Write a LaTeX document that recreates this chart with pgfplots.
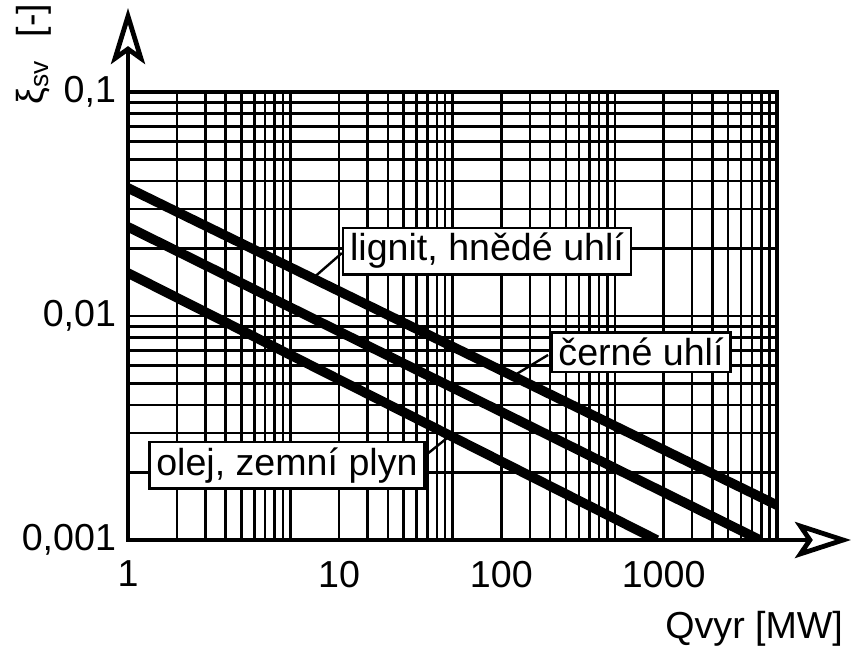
\documentclass[border=0pt]{standalone}
\usepackage{pgfplots}
\pgfplotsset{compat=1.18}
\usepackage{fontspec}
\setmainfont{Liberation Sans}
\usetikzlibrary{arrows.meta}
\newcommand{\lblfont}{\fontsize{18.8}{22}\selectfont}
\begin{document}
\begin{tikzpicture}[x=1pt,y=1pt]
\useasboundingbox (-64,-53.5) rectangle (363,270);
\begin{axis}[
  scale only axis, width=324.5pt, height=224pt,
  xmode=log, ymode=log,
  xmin=0.5, xmax=5000, ymin=0.001, ymax=0.1,
  xtick={0.5,10,100,1000}, xticklabels={1,10,100,1000},
  ytick={0.001,0.01,0.1}, yticklabels={{0,001},{0,01},{0,1}},
  minor xtick={1,1.5,2,2.5,3,3.5,4,4.5,5,15,20,25,30,35,40,45,50,150,200,250,300,350,400,450,500,1500,2000,2500,3000,3500,4000,4500},
  minor ytick={0.002,0.003,0.004,0.005,0.006,0.007,0.008,0.009,0.02,0.03,0.04,0.05,0.06,0.07,0.08,0.09},
  grid=both,
  major grid style={black, line width=1.25pt},
  minor grid style={black, line width=1.25pt},
  major tick length=0pt, minor tick length=0pt,
  axis line style={line width=2.2pt},
  tick label style={font=\lblfont},
  xticklabel style={yshift=-7pt},
  yticklabel style={xshift=-2.5pt},
]
% lignit, hnede uhli
\addplot[black, line width=4.8pt, line cap=butt] coordinates {(0.5,0.0373) (5000,0.00143)};
% cerne uhli
\addplot[black, line width=4.8pt, line cap=butt] coordinates {(0.5,0.0250) (3927,0.001)};
% olej, zemni plyn
\addplot[black, line width=4.8pt, line cap=butt] coordinates {(0.5,0.01556) (910,0.001)};

\draw[line width=1.2pt] (axis cs:10.4,0.0191) -- (axis cs:6.9,0.01473);
\draw[line width=1.2pt] (axis cs:194,0.0067) -- (axis cs:118,0.00539);
\draw[line width=1.2pt] (axis cs:31.5,0.00228) -- (axis cs:48.2,0.00292);

\node[draw, line width=1.2pt, fill=white, inner xsep=3.5pt, inner ysep=2.8pt, font=\lblfont] at (axis cs:81.6,0.0195) {lignit, hnědé uhlí};
\node[draw, line width=1.2pt, fill=white, inner xsep=3.5pt, inner ysep=2.8pt, font=\lblfont] at (axis cs:726,0.0069) {černé uhlí};
\node[draw, line width=1.2pt, fill=white, inner xsep=3.5pt, inner ysep=2.8pt, font=\lblfont] at (axis cs:4.77,0.00216) {olej, zemní plyn};
\end{axis}
\draw[line width=2.2pt, -{Stealth[open, length=28pt, width=17pt, inset=6pt, line width=2.4pt]}] (0,224) -- (0,266);
\draw[line width=2.2pt, -{Stealth[open, length=28pt, width=18pt, inset=6pt, line width=2.4pt]}] (324.5,0) -- (361.5,0);
\node[rotate=90, font=\lblfont] at (-47,243) {ξ\textsubscript{sv}\hspace{0.6em}[-]};
\node[anchor=base east, font=\lblfont] at (361,-49) {Qvyr [MW]};
\end{tikzpicture}
\end{document}
